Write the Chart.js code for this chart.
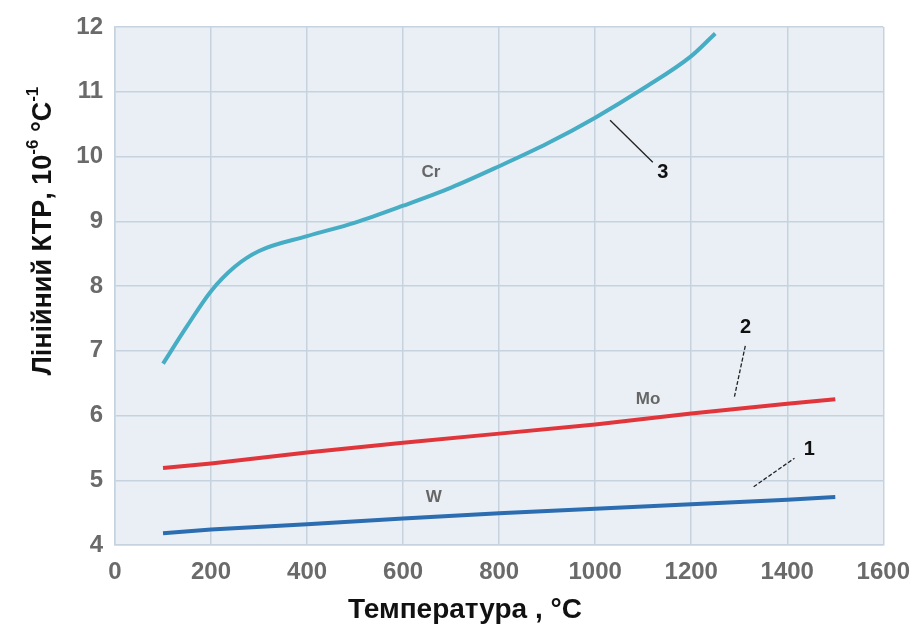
<!DOCTYPE html>
<html>
<head>
<meta charset="utf-8">
<script src="https://cdn.jsdelivr.net/npm/chart.js@4"></script>
<style>
	html, body { margin: 0; padding: 0; background: #fff; }
	#wrap { width: 923px; height: 628px; }
</style>
</head>
<body>
<div id="wrap"><canvas id="ktr-chart"></canvas></div>
<script>
/* global Chart */
// Data
var tempCr  = [ 100, 150, 200, 250, 300, 400, 500, 600, 700, 800, 900, 1000, 1100, 1200, 1250 ];
var valCr   = [ 6.8, 7.38, 7.92, 8.3, 8.54, 8.77, 8.98, 9.24, 9.52, 9.85, 10.2, 10.6, 11.05, 11.55, 11.9 ];
var tempWMo = [ 100, 200, 400, 600, 800, 1000, 1200, 1400, 1500 ];
var valMo   = [ 5.19, 5.26, 5.43, 5.58, 5.72, 5.86, 6.03, 6.18, 6.25 ];
var valW    = [ 4.18, 4.24, 4.32, 4.41, 4.49, 4.56, 4.63, 4.7, 4.74 ];

var xTicks = [ 0, 200, 400, 600, 800, 1000, 1200, 1400, 1600 ];
var yTicks = [ 4, 5, 6, 7, 8, 9, 10, 11, 12 ];

var xTitle = 'Температура , °C';
var yTitleParts = [ [ 'Лінійний КТР', 0 ], [ ',', 0 ], [ ' 10', 0 ], [ '-6', 1 ], [ ' °C', 0 ], [ '-1', 1 ] ];

// curve names and numbered callouts, in data units
var curveNames = [ [ 'Cr', 658, 9.75 ], [ 'Mo', 1110, 6.25 ], [ 'W', 664, 4.74 ] ];
var callouts   = [
	[ '3', 1141, 9.75, 1031, 10.56, 1120, 9.91, false ],
	[ '2', 1313, 7.36, 1290, 6.29, 1313, 7.09, true ],
	[ '1', 1446, 5.47, 1330, 4.9, 1415, 5.34, true ],
];

( function () {
	'use strict';

	function pts( xs, ys ) {
		return xs.map( function ( x, i ) { return { x : x, y : ys[ i ] }; } );
	}

	var FONT = '"Liberation Sans", Arial, sans-serif';

	// ── plot background ─────────────────────────────────────────
	var plotBg = {
		id : 'plotBg',
		beforeDraw : function ( chart ) {
			var a = chart.chartArea, ctx = chart.ctx;
			ctx.save();
			ctx.fillStyle = '#e9eff5';
			ctx.fillRect( a.left, a.top, a.right - a.left, a.bottom - a.top );
			ctx.restore();
		},
	};

	// ── titles, curve names, callouts ───────────────────────────
	var extras = {
		id : 'extras',
		afterDraw : function ( chart ) {
			var ctx = chart.ctx, xs = chart.scales.x, ys = chart.scales.y;
			ctx.save();

			// x title
			ctx.fillStyle = '#111';
			ctx.font = 'bold 28px ' + FONT;
			ctx.textAlign = 'center';
			ctx.textBaseline = 'middle';
			ctx.fillText( xTitle, 465, 610 );

			// y title (rotated, with superscripts)
			ctx.save();
			ctx.translate( 41, 231 );
			ctx.rotate( -Math.PI / 2 );
			var big = 'bold 27px ' + FONT, small = 'bold 17px ' + FONT;
			var total = 0;
			yTitleParts.forEach( function ( p ) {
				ctx.font = p[ 1 ] ? small : big;
				total += ctx.measureText( p[ 0 ] ).width;
			} );
			var cx = -total / 2;
			ctx.textAlign = 'left';
			ctx.textBaseline = 'alphabetic';
			yTitleParts.forEach( function ( p ) {
				ctx.font = p[ 1 ] ? small : big;
				ctx.fillText( p[ 0 ], cx, p[ 1 ] ? -3 : 10 );
				cx += ctx.measureText( p[ 0 ] ).width;
			} );
			ctx.restore();

			// curve names
			ctx.fillStyle = '#666';
			ctx.font = 'bold 17px ' + FONT;
			ctx.textAlign = 'center';
			ctx.textBaseline = 'middle';
			curveNames.forEach( function ( n ) {
				ctx.fillText( n[ 0 ], xs.getPixelForValue( n[ 1 ] ), ys.getPixelForValue( n[ 2 ] ) );
			} );

			// callouts
			callouts.forEach( function ( c ) {
				ctx.strokeStyle = '#222';
				ctx.lineWidth = 1.3;
				ctx.setLineDash( c[ 7 ] ? [ 4, 2 ] : [] );
				ctx.beginPath();
				ctx.moveTo( xs.getPixelForValue( c[ 3 ] ), ys.getPixelForValue( c[ 4 ] ) );
				ctx.lineTo( xs.getPixelForValue( c[ 5 ] ), ys.getPixelForValue( c[ 6 ] ) );
				ctx.stroke();
				ctx.setLineDash( [] );
				ctx.fillStyle = '#111';
				ctx.font = 'bold 20px ' + FONT;
				ctx.fillText( c[ 0 ], xs.getPixelForValue( c[ 1 ] ), ys.getPixelForValue( c[ 2 ] ) );
			} );

			ctx.restore();
		},
	};

	var tickFont = { family : FONT, size : 24, weight : 'bold' };

	new Chart( document.getElementById( 'ktr-chart' ), {
		type : 'line',
		data : {
			datasets : [
				{
					label                  : 'Cr',
					data                   : pts( tempCr, valCr ),
					borderColor            : '#46adc5',
					borderWidth            : 4,
					pointRadius            : 0,
					cubicInterpolationMode : 'monotone',
				},
				{
					label       : 'Mo',
					data        : pts( tempWMo, valMo ),
					borderColor : '#e0363b',
					borderWidth : 4,
					pointRadius : 0,
				},
				{
					label       : 'W',
					data        : pts( tempWMo, valW ),
					borderColor : '#2b6db0',
					borderWidth : 4,
					pointRadius : 0,
				},
			],
		},
		options : {
			responsive          : true,
			maintainAspectRatio : false,
			animation           : false,
			layout  : { padding : { left : 0, right : 35, top : 27, bottom : 0 } },
			plugins : { legend : { display : false }, tooltip : { enabled : false } },
			scales  : {
				x : {
					type : 'linear',
					min  : 0,
					max  : 1600,
					afterBuildTicks : function ( s ) { s.ticks = xTicks.map( function ( v ) { return { value : v }; } ); },
					afterFit : function ( s ) { s.height = 628 - 545; },
					ticks  : {
						font : tickFont, color : '#6a6a6a', padding : 13, maxRotation : 0,
						callback : function ( v ) { return String( v ); },
					},
					grid   : { color : '#c6d3df', lineWidth : 1.5, drawTicks : false },
					border : { color : '#c6d3df', width : 1.5 },
				},
				y : {
					min : 4,
					max : 12,
					afterBuildTicks : function ( s ) { s.ticks = yTicks.map( function ( v ) { return { value : v }; } ); },
					afterFit : function ( s ) { s.width = 115; },
					ticks  : { font : tickFont, color : '#6a6a6a', padding : 12 },
					grid   : { color : '#c6d3df', lineWidth : 1.5, drawTicks : false },
					border : { color : '#c6d3df', width : 1.5 },
				},
			},
		},
		plugins : [ plotBg, extras ],
	} );
} )();
</script>
</body>
</html>
